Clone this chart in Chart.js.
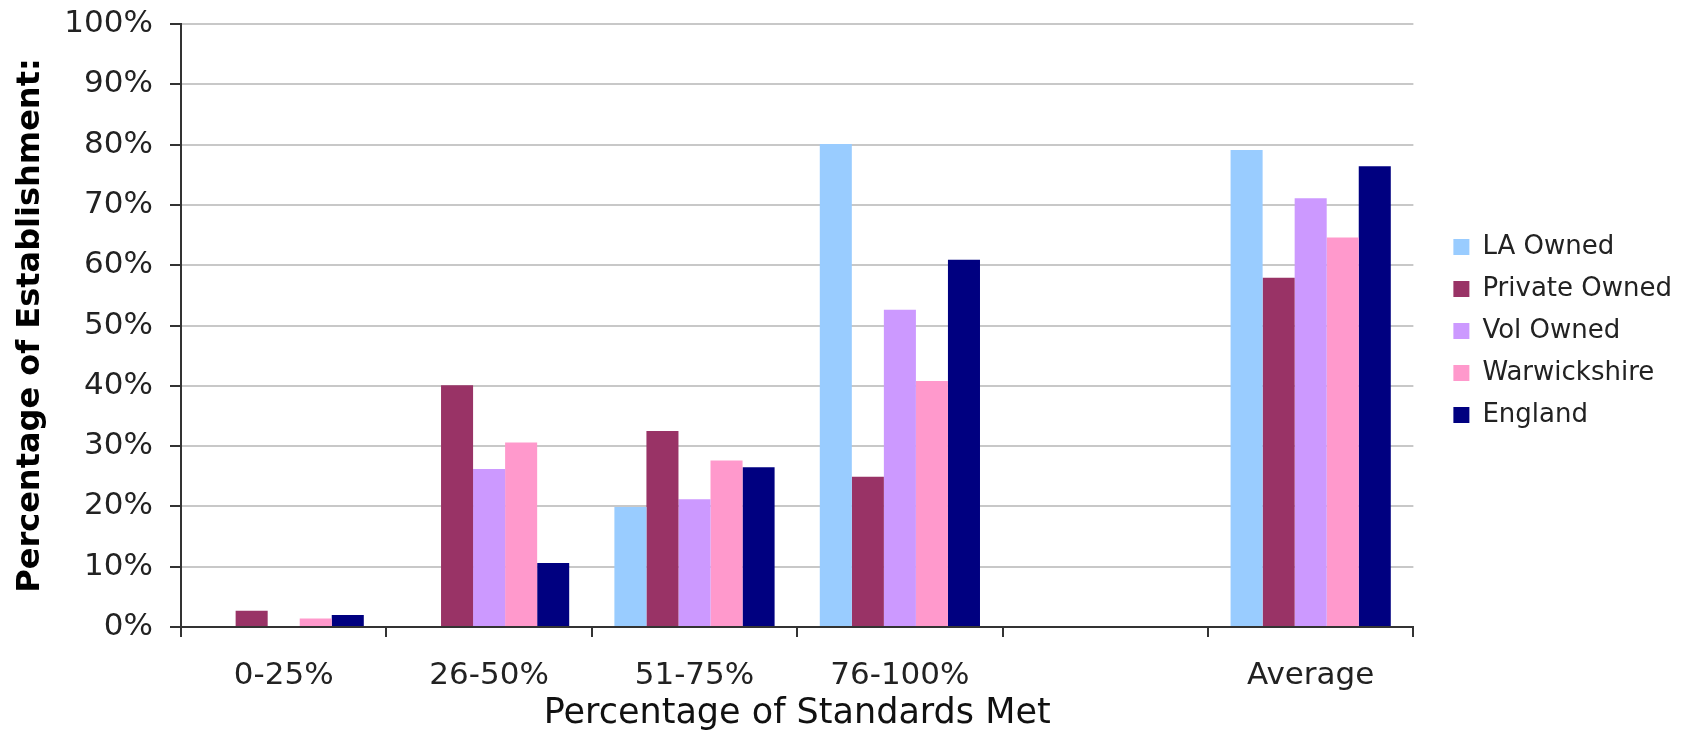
<!DOCTYPE html>
<html>
<head>
<meta charset="utf-8">
<title>Percentage of Standards Met</title>
<script src="https://cdn.jsdelivr.net/npm/chart.js@4"></script>
<style>
    body { margin: 0; background: #fff; }
    canvas { display: block; }
</style>
</head>
<body>
<canvas id="standardschart" width="1682" height="735"></canvas>
<script>
const categories = ["0-25%", "26-50%", "51-75%", "76-100%", "", "Average"];
const yTicks = [0, 10, 20, 30, 40, 50, 60, 70, 80, 90, 100];

const laOwned      = [0,   0,    19.9, 80.1, null, 79.1];
const privateOwned = [2.7, 40.1, 32.5, 24.9, null, 57.9];
const volOwned     = [0,   26.2, 21.2, 52.6, null, 71.1];
const warwickshire = [1.4, 30.6, 27.6, 40.8, null, 64.6];
const england      = [2.0, 10.6, 26.5, 60.9, null, 76.4];

const font = "'DejaVu Sans', Verdana, sans-serif";
const axisDark = "#333333";

const ctx = document.getElementById("standardschart").getContext("2d");

window.standardsChart = new Chart(ctx, {
    type: "bar",
    data: {
        labels: categories,
        datasets: [
            { label: "LA Owned", data: laOwned, backgroundColor: "#99ccff" },
            { label: "Private Owned", data: privateOwned, backgroundColor: "#993366" },
            { label: "Vol Owned", data: volOwned, backgroundColor: "#cc99ff" },
            { label: "Warwickshire", data: warwickshire, backgroundColor: "#ff99cc" },
            { label: "England", data: england, backgroundColor: "#000080" }
        ]
    },
    options: {
        responsive: false,
        animation: false,
        devicePixelRatio: 1,
        categoryPercentage: 0.78,
        barPercentage: 1.0,
        layout: {
            padding: { top: 24, left: 0, right: 0, bottom: 0 }
        },
        plugins: {
            tooltip: { enabled: false },
            legend: {
                display: true,
                position: "right",
                align: "center",
                fullSize: false,
                // empty title just nudges the items a little lower
                title: {
                    display: true,
                    text: "",
                    padding: 3,
                    font: { family: font, size: 5, lineHeight: 1 }
                },
                labels: {
                    boxWidth: 16,
                    boxHeight: 16,
                    padding: 16,
                    color: "#222",
                    font: { family: font, size: 26 }
                }
            }
        },
        scales: {
            x: {
                grid: {
                    display: true,
                    drawOnChartArea: false,
                    drawTicks: true,
                    offset: true,
                    tickLength: 10,
                    color: axisDark,
                    lineWidth: 2
                },
                border: { display: true, color: axisDark, width: 2 },
                ticks: {
                    color: "#222",
                    padding: 20,
                    maxRotation: 0,
                    autoSkip: false,
                    font: { family: font, size: 31 }
                },
                title: {
                    display: true,
                    text: "Percentage of Standards Met",
                    color: "#111",
                    padding: { top: 0, bottom: 0 },
                    font: { family: font, size: 35 }
                },
                afterFit: scale => { scale.height = 108; }
            },
            y: {
                min: 0,
                max: 100,
                afterBuildTicks: scale => {
                    scale.ticks = yTicks.map(v => ({ value: v }));
                },
                grid: {
                    color: c => c.tick && c.tick.value === 0 ? axisDark : "#c8c8c8",
                    lineWidth: 2,
                    tickLength: 11,
                    tickColor: axisDark
                },
                border: { display: true, color: axisDark, width: 2 },
                ticks: {
                    color: "#222",
                    padding: 17,
                    callback: v => v + "%",
                    font: { family: font, size: 31 }
                },
                title: {
                    display: true,
                    text: "Percentage of Establishment:",
                    color: "#000",
                    padding: { top: 11, bottom: 0 },
                    font: { family: font, size: 32, weight: "bold" }
                },
                afterFit: scale => {
                    scale.width = 181;
                    // labels may overhang the plot, top padding is set by layout
                    scale.paddingTop = 0;
                    scale.paddingBottom = 0;
                }
            },
            // empty axis, only keeps the gap between plot and legend
            gap: {
                position: "right",
                display: true,
                grid: { display: false },
                border: { display: false },
                ticks: { display: false },
                afterFit: scale => { scale.width = 24; }
            }
        }
    }
});
</script>
</body>
</html>
